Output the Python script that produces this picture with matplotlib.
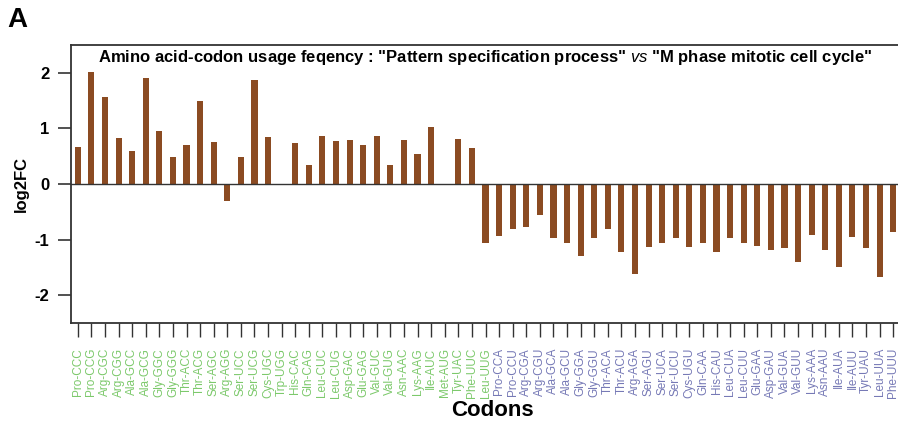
"""Codon usage log2 fold change bar chart."""

import matplotlib
matplotlib.use("Agg")
import matplotlib.pyplot as plt

plt.rcParams["font.family"] = ["Liberation Sans", "DejaVu Sans"]
plt.rcParams["mathtext.fontset"] = "custom"
plt.rcParams["mathtext.it"] = "Liberation Sans:italic"
plt.rcParams["mathtext.rm"] = "Liberation Sans"

# codons enriched (green) and depleted (blue)
green_codons = [
    "Pro-CCC", "Pro-CCG", "Arg-CGC", "Arg-CGG", "Ala-GCC", "Ala-GCG", "Gly-GGC",
    "Gly-GGG", "Thr-ACC", "Thr-ACG", "Ser-AGC", "Arg-AGG", "Ser-UCC", "Ser-UCG",
    "Cys-UGC", "Trp-UGG", "His-CAC", "Gln-CAG", "Leu-CUC", "Leu-CUG", "Asp-GAC",
    "Glu-GAG", "Val-GUC", "Val-GUG", "Asn-AAC", "Lys-AAG", "Ile-AUC", "Met-AUG",
    "Tyr-UAC", "Phe-UUC", "Leu-UUG",
]
blue_codons = [
    "Pro-CCA", "Pro-CCU", "Arg-CGA", "Arg-CGU", "Ala-GCA", "Ala-GCU", "Gly-GGA",
    "Gly-GGU", "Thr-ACA", "Thr-ACU", "Arg-AGA", "Ser-AGU", "Ser-UCA", "Ser-UCU",
    "Cys-UGU", "Gln-CAA", "His-CAU", "Leu-CUA", "Leu-CUU", "Glu-GAA", "Asp-GAU",
    "Val-GUA", "Val-GUU", "Lys-AAA", "Asn-AAU", "Ile-AUA", "Ile-AUU", "Tyr-UAU",
    "Leu-UUA", "Phe-UUU",
]
green_log2fc = [
    0.66, 2.02, 1.56, 0.82, 0.59, 1.90, 0.95, 0.48, 0.71, 1.49, 0.76, -0.30,
    0.49, 1.87, 0.84, 0.0, 0.74, 0.35, 0.86, 0.77, 0.80, 0.71, 0.87, 0.35,
    0.80, 0.54, 1.03, 0.0, 0.81, 0.65, -1.06,
]
blue_log2fc = [
    -0.93, -0.81, -0.78, -0.56, -0.98, -1.07, -1.30, -0.98, -0.81, -1.22, -1.61,
    -1.13, -1.06, -0.98, -1.13, -1.06, -1.23, -0.98, -1.06, -1.12, -1.19, -1.15,
    -1.40, -0.92, -1.19, -1.50, -0.95, -1.16, -1.68, -0.86,
]

GREEN = "#7cc96b"
BLUE = "#7679b6"
BAR = "#8b4b22"

codons = green_codons + blue_codons
values = green_log2fc + blue_log2fc
x = list(range(len(codons)))

fig = plt.figure(figsize=(8.98, 4.34), dpi=100)
ax = fig.add_axes([71 / 898, 1 - 323 / 434, 829 / 898, 278 / 434])

ax.bar(x, values, width=0.45, color=BAR, edgecolor="none", zorder=2)
ax.axhline(0, color="#333333", linewidth=1.0, zorder=3)

ax.set_xlim(-0.5, len(codons) - 0.5)
ax.set_ylim(-2.5, 2.5)
ax.set_yticks([-2, -1, 0, 1, 2])
ax.set_yticklabels(["-2", "-1", "0", "1", "2"], fontsize=12, fontweight="bold")
ax.set_xticks(x)
ax.set_xticklabels(codons, rotation=90, fontsize=8.5)
for lbl, name in zip(ax.get_xticklabels(), codons):
    lbl.set_color(GREEN if name in green_codons else BLUE)

ax.tick_params(axis="y", direction="out", length=9.5, width=1.2, color="#333333", pad=6)
ax.tick_params(axis="x", direction="out", length=10, width=1.0, color="#333333", pad=8)
for side in ("left", "top", "bottom"):
    ax.spines[side].set_linewidth(1.3)
    ax.spines[side].set_color("#333333")
ax.spines["right"].set_visible(False)

ax.set_ylabel("log2FC", fontsize=12, fontweight="bold", labelpad=4)

# x-axis title placed by hand so it sits just under the rotated labels
fig.text(492 / 898, 1 - 411 / 434, "Codons", fontsize=16, fontweight="heavy",
         ha="center", va="center")

ax.text(
    0.5, 0.955,
    r'Amino acid-codon usage feqency : "Pattern specification process" $\it{vs}$ "M phase mitotic cell cycle"',
    transform=ax.transAxes, ha="center", va="center", fontsize=12, fontweight="bold",
)
fig.text(7 / 898, 1 - 20 / 434, "A", fontsize=20, fontweight="heavy", va="center", ha="left")

fig.savefig("out.png", dpi=100)
